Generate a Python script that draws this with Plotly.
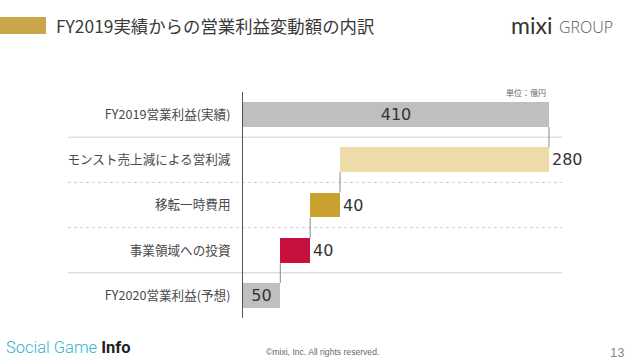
import plotly.graph_objects as go

# ---- data ----
categories = ["FY2019営業利益(実績)", "モンスト売上減による営利減", "移転一時費用", "事業領域への投資", "FY2020営業利益(予想)"]
values = [410, -280, -40, -40, 50]
kinds = ["total", "relative", "relative", "relative", "total"]
bar_colors = ["#bfbfbf", "#eddba8", "#c9a12f", "#c8103f", "#bfbfbf"]
text_pos = ["inside", "outside", "outside", "outside", "inside"]

# ---- waterfall geometry from the data ----
bases, lengths, ends = [], [], []
running = 0
for v, k in zip(values, kinds):
    if k == "total":
        bases.append(0)
        lengths.append(v)
        running = v
    else:
        new = running + v
        bases.append(min(running, new))
        lengths.append(abs(v))
        running = new
    ends.append(running)
labels = [str(abs(v)) for v in values]
ypos = list(range(len(categories)))

# ---- layout constants (pixels) ----
WIDTH, HEIGHT = 640, 360
ML, MR, MT, MB = 243, 40, 92, 42
PW = WIDTH - ML - MR
PH = HEIGHT - MT - MB
XMAX = PW / 0.7463
FONT = "Noto Sans CJK JP"
BAR_W = 0.55


def px(xp):
    return (xp - ML) / PW


def py(yp):
    return (HEIGHT - MB - yp) / PH


fig = go.Figure()
fig.add_trace(go.Bar(
    y=ypos, x=lengths, base=bases, orientation="h",
    marker=dict(color=bar_colors, line=dict(width=0)),
    width=BAR_W,
    text=labels, textposition=text_pos, insidetextanchor="middle", textangle=0,
    textfont=dict(family="DejaVu Sans", size=16, color="#333333"),
    constraintext="none", cliponaxis=False,
    hoverinfo="skip",
))

shapes = []
# separators
for i in range(len(categories) - 1):
    solid = kinds[i] == "total" or kinds[i + 1] == "total"
    shapes.append(dict(type="line", xref="paper", yref="y",
                       x0=px(68), x1=px(562), y0=i + 0.5, y1=i + 0.5,
                       line=dict(color="#cfcfcf", width=1, dash="solid" if solid else "dot"),
                       layer="below"))
# connectors
for i in range(len(categories) - 1):
    shapes.append(dict(type="line", xref="x", yref="y",
                       x0=ends[i], x1=ends[i], y0=i + BAR_W / 2, y1=i + 1 - BAR_W / 2,
                       line=dict(color="#8a8a8a", width=1)))
# title marker
shapes.append(dict(type="rect", xref="paper", yref="paper",
                   x0=px(0), x1=px(46), y0=py(34), y1=py(17),
                   fillcolor="#c9a64c", line=dict(width=0)))

annotations = [
    dict(text="FY2019実績からの営業利益変動額の内訳", xref="paper", yref="paper",
         x=px(54), y=py(25.5), xanchor="left", yanchor="middle", showarrow=False,
         font=dict(family=FONT, size=17.4, color="#3a3a3a")),
    dict(text="mixi", xref="paper", yref="paper",
         x=px(509), y=py(25), xanchor="left", yanchor="middle", showarrow=False,
         font=dict(family="Lato", size=23, color="#333333")),
    dict(text="GROUP", xref="paper", yref="paper",
         x=px(557), y=py(27), xanchor="left", yanchor="middle", showarrow=False,
         font=dict(family="Open Sans", size=16, color="#555555", weight=300)),
    dict(text="単位：億円", xref="paper", yref="paper",
         x=px(548), y=py(92), xanchor="right", yanchor="middle", showarrow=False,
         font=dict(family=FONT, size=8, color="#666666")),
    dict(text="<span style='color:#2eb3cf'>Social Game</span> <b>Info</b>", xref="paper", yref="paper",
         x=px(4), y=py(347), xanchor="left", yanchor="middle", showarrow=False,
         font=dict(family="Roboto", size=16.5, color="#222222", weight=300)),
    dict(text="©mixi, Inc. All rights reserved.", xref="paper", yref="paper",
         x=px(264), y=py(352), xanchor="left", yanchor="middle", showarrow=False,
         font=dict(family="Liberation Sans", size=8.6, color="#666666")),
    dict(text="13", xref="paper", yref="paper",
         x=px(626), y=py(352), xanchor="right", yanchor="middle", showarrow=False,
         font=dict(family="Liberation Sans", size=13, color="#888888")),
]

fig.update_layout(
    width=WIDTH, height=HEIGHT,
    margin=dict(l=ML, r=MR, t=MT, b=MB, pad=0),
    paper_bgcolor="white", plot_bgcolor="white",
    showlegend=False,
    bargap=0,
    xaxis=dict(range=[0, XMAX], visible=False, fixedrange=True),
    yaxis=dict(tickmode="array", tickvals=ypos, ticktext=categories,
               range=[len(categories) - 0.5, -0.5],
               showgrid=False, zeroline=False, showline=True, linecolor="#555555", linewidth=1,
               ticks="", ticklabelstandoff=9,
               tickfont=dict(family=FONT, size=12.6, color="#4a4a4a"), fixedrange=True),
    shapes=shapes,
    annotations=annotations,
)

fig.write_html("out.html", config={"displayModeBar": False},
               post_script="document.body.style.margin='0';document.body.style.overflow='hidden';")
